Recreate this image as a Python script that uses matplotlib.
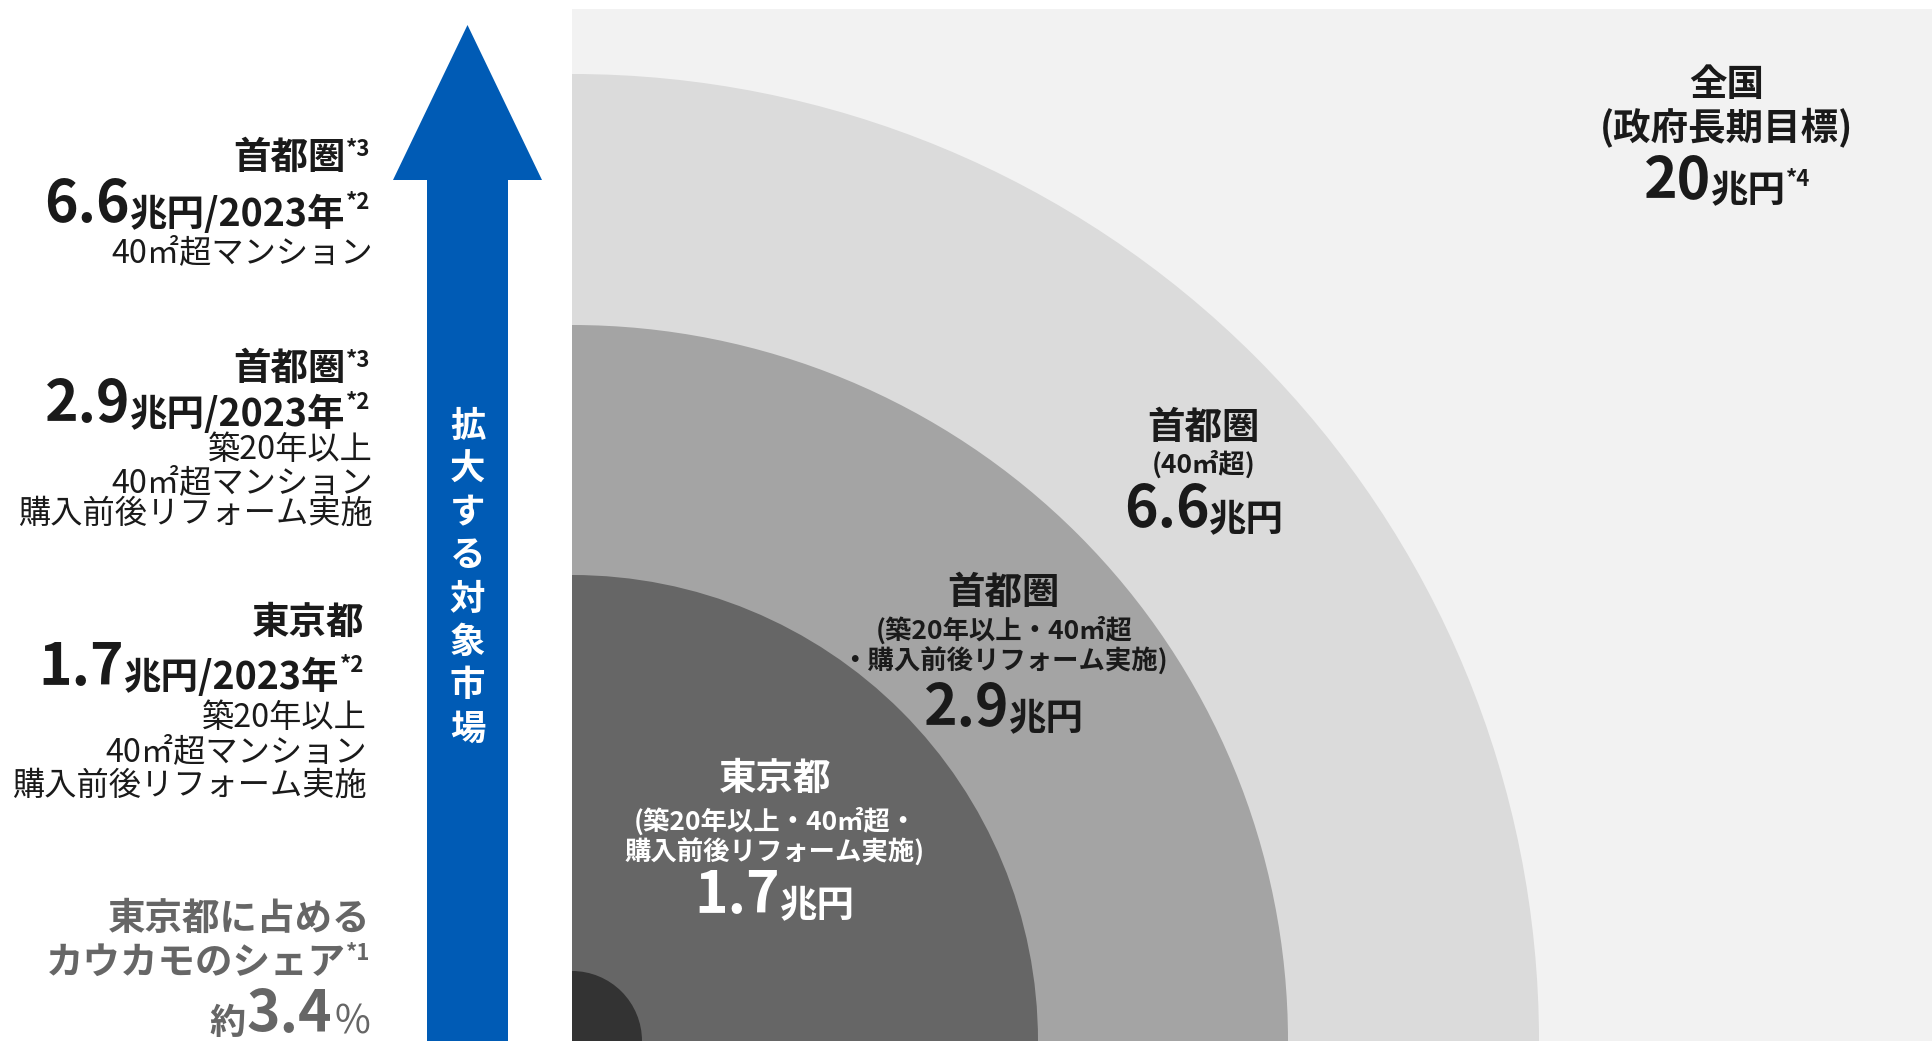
import matplotlib
matplotlib.use("Agg")
import matplotlib.pyplot as plt
from matplotlib.patches import Rectangle, Wedge, Polygon

# ---------------- data ----------------
ring_names = ["全国", "首都圏", "首都圏", "東京都"]
ring_values = [20, 6.6, 2.9, 1.7]          # 兆円
ring_notes = ["(政府長期目標)", "(40㎡超)",
              "(築20年以上・40㎡超\n・購入前後リフォーム実施)",
              "(築20年以上・40㎡超・\n購入前後リフォーム実施)"]
share_value = 3.4                           # %
market_year = 2023
left_titles = ["首都圏", "首都圏", "東京都"]
left_title_notes = ["*3", "*3", ""]
left_values = [6.6, 2.9, 1.7]
left_details = [["40㎡超マンション"],
                ["築20年以上", "40㎡超マンション", "購入前後リフォーム実施"],
                ["築20年以上", "40㎡超マンション", "購入前後リフォーム実施"]]
arrow_label = "拡大する対象市場"

# ---------------- layout / style ----------------
W, H = 1933, 1041
FONT = ["Noto Sans CJK JP", "DejaVu Sans"]
plt.rcParams["font.family"] = FONT
BLACK = "#1a1a1a"
GRAY_TXT = "#666666"
BLUE = "#005BB5"
ring_colors = ["#dbdbdb", "#a4a4a4", "#666666", "#333333"]
ring_radii = [967, 716, 466, 70]
cx, cy = 572, H
HEAD = 27      # bold headings
BIG = 41       # big numbers
UNIT = 27      # 兆円
REG = 23.2     # regular detail lines
SUP = 16

fig = plt.figure(figsize=(W / 100, H / 100), dpi=100)
ax = fig.add_axes([0, 0, 1, 1])
ax.set_xlim(0, W)
ax.set_ylim(H, 0)
ax.axis("off")
renderer = fig.canvas.get_renderer()

# background panel
ax.add_patch(Rectangle((cx, 9), W - cx, H - 9, color="#f2f2f2", lw=0, zorder=1))
# rings (quarter circles)
for r, c in zip(ring_radii, ring_colors):
    ax.add_patch(Wedge((cx, cy), r, 270, 360, color=c, lw=0, zorder=2))

# arrow
ax.add_patch(Polygon([(427, H), (427, 180), (393, 180), (467.5, 25),
                      (542, 180), (508, 180), (508, H)],
                     closed=True, color=BLUE, lw=0, zorder=2))
for i, ch in enumerate(arrow_label):
    ax.text(467.5, 426 + i * 43.3, ch, fontsize=25.5, fontweight="bold",
            color="white", ha="center", va="center", zorder=5)


def draw_line(x, y, pieces, ha="right"):
    """pieces: (text, size, weight, color, dy, gap)"""
    texts, widths = [], []
    for p in pieces:
        s, size, weight, color, dy = p[:5]
        gap = p[5] if len(p) > 5 else 0
        t = ax.text(0, y + dy, s, fontsize=size, fontweight=weight, color=color,
                    ha="left", va="baseline", zorder=6)
        w = t.get_window_extent(renderer).width
        texts.append(t)
        widths.append(w + gap)
    total = sum(widths)
    start = x - total if ha == "right" else (x - total / 2 if ha == "center" else x)
    cur = start
    for t, w in zip(texts, widths):
        t.set_x(cur)
        cur += w


# ---------------- left side blocks ----------------
left_blocks = [
    dict(xr=370, title_y=169, value_y=226, detail_ys=[262]),
    dict(xr=370, title_y=380, value_y=426, detail_ys=[459, 492, 523]),
    dict(xr=364, title_y=634, value_y=689, detail_ys=[727, 761, 795]),
]
for k, blk in enumerate(left_blocks):
    title = [(left_titles[k], HEAD, "bold", BLACK, 0)]
    if left_title_notes[k]:
        title.append((left_title_notes[k], SUP, "bold", BLACK, -13))
    draw_line(blk["xr"], blk["title_y"], title)
    draw_line(blk["xr"], blk["value_y"], [
        (f"{left_values[k]}", BIG, "bold", BLACK, -4, 0),
        (f"兆円/{market_year}年", UNIT, "bold", BLACK, 0),
        ("*2", SUP, "bold", BLACK, -17),
    ])
    for s, yy in zip(left_details[k], blk["detail_ys"]):
        draw_line(blk["xr"] + 3, yy, [(s, REG, "normal", BLACK, 0)])

# share block
draw_line(370, 930, [("東京都に占める", HEAD, "bold", GRAY_TXT, 0)])
draw_line(370, 974, [("カウカモのシェア", HEAD, "bold", GRAY_TXT, 0),
                     ("*1", SUP, "bold", GRAY_TXT, -14)])
draw_line(370, 1034, [("約", 26, "bold", GRAY_TXT, 0, 1),
                      (f"{share_value}", BIG, "bold", GRAY_TXT, -2, 2),
                      ("%", 28, "normal", GRAY_TXT, 0)])

# ---------------- ring labels ----------------
ring_layout = [
    dict(x=1727, ys=[96, 139], val_y=198, color=BLACK, note_size=HEAD, sup="*4"),
    dict(x=1204, ys=[439, 473], val_y=527, color=BLACK, note_size=19, sup=""),
    dict(x=1004, ys=[604, 639, 670], val_y=726, color=BLACK, note_size=19, sup=""),
    dict(x=775, ys=[790, 830, 861], val_y=913, color="white", note_size=19, sup=""),
]
for k, lay in enumerate(ring_layout):
    c = lay["color"]
    draw_line(lay["x"], lay["ys"][0], [(ring_names[k], HEAD, "bold", c, 0)], ha="center")
    for s, yy in zip(ring_notes[k].split("\n"), lay["ys"][1:]):
        draw_line(lay["x"], yy, [(s, lay["note_size"], "bold", c, 0)], ha="center")
    v = ring_values[k]
    vs = f"{v:g}"
    pieces = [(vs, BIG, "bold", c, 0, 0), ("兆円", UNIT, "bold", c, 4)]
    if lay["sup"]:
        pieces.append((lay["sup"], SUP, "bold", c, -12))
    draw_line(lay["x"], lay["val_y"], pieces, ha="center")

fig.savefig("out.png", dpi=100)
